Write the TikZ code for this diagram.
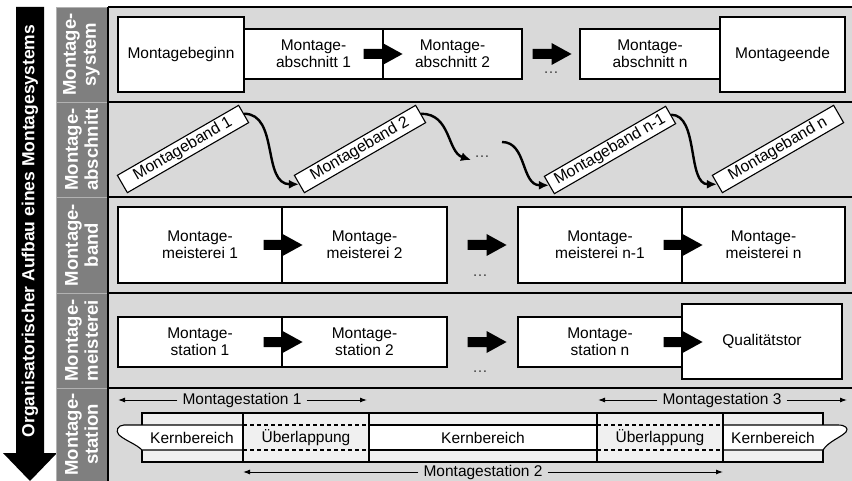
\documentclass[tikz,border=0pt]{standalone}
\usepackage{fontspec}
\setmainfont{Liberation Sans}
\usetikzlibrary{arrows.meta}
\definecolor{levelgray}{HTML}{7F7F7F}
\definecolor{panelgray}{HTML}{D9D9D9}
\definecolor{stripgray}{HTML}{F0F0F0}
\begin{document}
\begin{tikzpicture}[x=1pt,y=-1pt,
  stage/.style={draw=black, line width=1.1pt, fill=white, align=center, inner sep=0pt,
    font=\fontsize{15.5}{17}\selectfont},
  levelcell/.style={fill=levelgray, draw=white!70!black, line width=0.8pt, rotate=90,
    minimum width=#1, minimum height=51pt, inner sep=0pt, align=center, text=white,
    font=\bfseries\fontsize{18.5}{20}\selectfont},
  bandbox/.style={stage, rotate=30, minimum width=140pt, minimum height=20pt,
    font=\fontsize{16}{17}\selectfont},
  flowarrow/.style={line width=2.4pt, -{Latex[length=10pt,width=9pt]}},
  spanarrow/.style={line width=1pt, -{Latex[length=7pt,width=5pt]}},
  spanlabel/.style={inner sep=5pt, font=\fontsize{15.5}{17}\selectfont},
  celltext/.style={inner sep=0pt, font=\fontsize{15.5}{17}\selectfont},
  ellipsisnode/.style={font=\fontsize{15.5}{17}\selectfont, text=black!75, anchor=base, inner sep=0pt},
  blockarrow/.pic={\fill (0,-5) -- (19,-5) -- (19,-11) -- (39,0) -- (19,11) -- (19,5) -- (0,5) -- cycle;},
  panelline/.style={line width=1.8pt},
  stripline/.style={line width=1.1pt},
]
\useasboundingbox (0,0) rectangle (852,481);

% panel background
\fill[panelgray] (108,7) rectangle (852,481);

% downward arrow with the title
\fill[black] (16,7) -- (44,7) -- (44,453) -- (57,453) -- (30,481) -- (3,453) -- (16,453) -- cycle;
\node[rotate=90, text=white, font=\bfseries\fontsize{17.5}{20}\selectfont] (title) at (30,231)
  {Organisatorischer Aufbau eines Montagesystems};

% level labels
\node[levelcell=95pt] (lv1) at (81.5,54.5) {Montage-\\system};
\node[levelcell=95pt] (lv2) at (81.5,149.5) {Montage-\\abschnitt};
\node[levelcell=96pt] (lv3) at (81.5,245) {Montage-\\band};
\node[levelcell=95pt] (lv4) at (81.5,340.5) {Montage-\\meisterei};
\node[levelcell=93pt] (lv5) at (81.5,434.5) {Montage-\\station};

% panel rules
\draw[panelline] (108,7) -- (852,7);
\draw[panelline] (108,102) -- (852,102);
\draw[panelline] (108,197) -- (852,197);
\draw[panelline] (108,293) -- (852,293);
\draw[panelline] (108,388) -- (852,388);
\draw[panelline] (108,7) -- (108,481);

% level: Montagesystem
\node[stage, minimum width=126pt, minimum height=75pt] (mbeg) at (181,54.5) {Montagebeginn};
\node[stage, minimum width=139pt, minimum height=50pt] (ab1) at (313.5,54) {Montage-\\abschnitt 1};
\node[stage, minimum width=139pt, minimum height=50pt] (ab2) at (452.5,54) {Montage-\\abschnitt 2};
\node[stage, minimum width=140pt, minimum height=50pt] (abn) at (650,54) {Montage-\\abschnitt n};
\node[stage, minimum width=125pt, minimum height=75pt] (mend) at (782.5,54.5) {Montageende};
\pic at ([xshift=-20pt]ab1.east) {blockarrow};
\pic at ([xshift=10pt]ab2.east) {blockarrow};
\node[ellipsisnode] (dotsA) at (551,74) {\ldots};

% level: Montageabschnitt
\node[bandbox] (mb1) at (183,149) {Montageband 1};
\node[bandbox] (mb2) at (360,149) {Montageband 2};
\node[bandbox] (mbn1) at (610,150) {Montageband n-1};
\node[bandbox] (mbn) at (778,149) {Montageband n};
\coordinate (c2end) at (471,160);
\coordinate (c3start) at (502,142);
\node[ellipsisnode] (dotsB) at (482,158) {\ldots};
\draw[flowarrow] (mb1.east) .. controls +(35,0) and +(-37,0) .. (mb2.west);
\draw[flowarrow] (mb2.east) .. controls +(30,0) and +(-24,-8) .. (c2end);
\draw[flowarrow] (c3start) .. controls +(25,0) and +(-28,0) .. (mbn1.west);
\draw[flowarrow] (mbn1.east) .. controls +(28,0) and +(-30,0) .. (mbn.west);

% level: Montageband
\node[stage, minimum width=164pt, minimum height=76pt] (mm1) at (200,245) {Montage-\\meisterei 1};
\node[stage, minimum width=165pt, minimum height=76pt] (mm2) at (364.5,245) {Montage-\\meisterei 2};
\node[stage, minimum width=164pt, minimum height=76pt] (mmn1) at (600,245) {Montage-\\meisterei n-1};
\node[stage, minimum width=163pt, minimum height=76pt] (mmn) at (763.5,245) {Montage-\\meisterei n};
\pic at ([xshift=-19pt]mm1.east) {blockarrow};
\pic at ([xshift=20pt]mm2.east) {blockarrow};
\pic at ([xshift=-19pt]mmn1.east) {blockarrow};
\node[ellipsisnode] (dotsC) at (480,277) {\ldots};

% level: Montagemeisterei
\node[stage, minimum width=164pt, minimum height=50pt] (ms1) at (200,342) {Montage-\\station 1};
\node[stage, minimum width=165pt, minimum height=50pt] (ms2) at (364.5,342) {Montage-\\station 2};
\node[stage, minimum width=164pt, minimum height=50pt] (msn) at (600,342) {Montage-\\station n};
\node[stage, minimum width=160pt, minimum height=75pt] (qt) at (762,341.5) {Qualitätstor};
\pic at ([xshift=-19pt]ms1.east) {blockarrow};
\pic at ([xshift=20pt]ms2.east) {blockarrow};
\pic at ([xshift=-19pt]msn.east) {blockarrow};
\node[ellipsisnode] (dotsD) at (480,372) {\ldots};

% level: Montagestation -- strip of core and overlap zones
\filldraw[fill=stripgray, stripline] (142,413) rectangle (823,462);
\fill[white] (142,425) -- (124,425) .. controls (118,425) and (115,431) .. (119,435)
  .. controls (126,441) and (136,444) .. (142,450) -- (823,450)
  .. controls (829,441) and (840,438) .. (846,432)
  .. controls (849,428) and (845,425) .. (838,425) -- cycle;
\fill[stripgray] (243,425) rectangle (369,450);
\fill[stripgray] (597,425) rectangle (723,450);
\draw[stripline] (243,425) -- (124,425) .. controls (118,425) and (115,431) .. (119,435)
  .. controls (126,441) and (136,444) .. (142,450) -- (243,450);
\draw[stripline] (369,425) -- (597,425) (369,450) -- (597,450);
\draw[stripline] (723,425) -- (838,425) .. controls (845,425) and (849,428) .. (846,432)
  .. controls (840,438) and (829,441) .. (823,450) -- (723,450);
\draw[stripline, dash pattern=on 4pt off 3pt] (243,425) -- (369,425) (243,450) -- (369,450)
  (597,425) -- (723,425) (597,450) -- (723,450);
\draw[stripline] (243,413) -- (243,462) (369,413) -- (369,462)
  (597,413) -- (597,462) (723,413) -- (723,462);

\node[celltext] (k1) at (192,437.5) {Kernbereich};
\node[celltext] (u1) at (306,437.5) {Überlappung};
\node[celltext] (k2) at (483,437.5) {Kernbereich};
\node[celltext] (u2) at (660,437.5) {Überlappung};
\node[celltext] (k3) at (773,437.5) {Kernbereich};

% extents of the stations
\node[spanlabel] (st1) at (242,400) {Montagestation 1};
\coordinate (st1l) at (118,400);
\coordinate (st1r) at (367,400);
\draw[spanarrow] (st1) -- (st1l);
\draw[spanarrow] (st1) -- (st1r);

\node[spanlabel] (st2) at (483,472) {Montagestation 2};
\coordinate (st2l) at (243,472);
\coordinate (st2r) at (723,472);
\draw[spanarrow] (st2) -- (st2l);
\draw[spanarrow] (st2) -- (st2r);

\node[spanlabel] (st3) at (722,400) {Montagestation 3};
\coordinate (st3l) at (598,400);
\coordinate (st3r) at (847,400);
\draw[spanarrow] (st3) -- (st3l);
\draw[spanarrow] (st3) -- (st3r);
\end{tikzpicture}
\end{document}
